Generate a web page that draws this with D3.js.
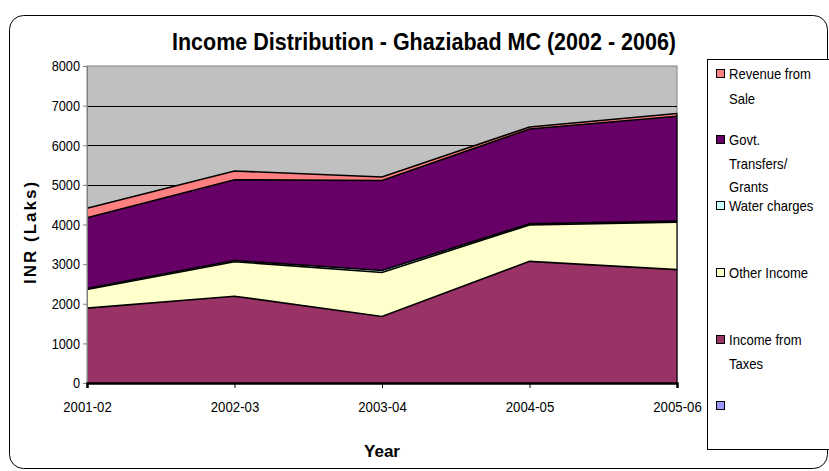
<!DOCTYPE html>
<html>
<head>
<meta charset="utf-8">
<script src="https://cdn.jsdelivr.net/npm/d3@7"></script>
<style>
  body { margin: 0; background: #fff; }
  svg { display: block; }
  text { font-family: "Liberation Sans Narrow", "Arial Narrow", "Liberation Sans", Arial, sans-serif; }
</style>
</head>
<body>
<div id="chart"></div>
<script>
// Data (INR Laks)
const years = ["2001-02", "2002-03", "2003-04", "2004-05", "2005-06"];
const incomeFromTaxes = [1890, 2190, 1680, 3070, 2860];
const otherIncome = [470, 870, 1110, 920, 1200];
const waterCharges = [25, 30, 50, 30, 25];
const govtTransfers = [1785, 2040, 2270, 2390, 2645];
const revenueFromSale = [240, 220, 90, 50, 70];
const yTicks = [0, 1000, 2000, 3000, 4000, 5000, 6000, 7000, 8000];

// stack order bottom -> top
const seriesNames = ["Income from Taxes", "Other Income", "Water charges", "Govt. Transfers/ Grants", "Revenue from Sale"];
const seriesColors = ["#993366", "#FFFFCC", "#CCFFFF", "#660066", "#FF8080"];
const seriesValues = [incomeFromTaxes, otherIncome, waterCharges, govtTransfers, revenueFromSale];

const width = 829, height = 471;
const margin = { top: 66, right: 152, bottom: 88, left: 87 };

const svg = d3.select("#chart").append("svg")
    .attr("width", width)
    .attr("height", height);

// squeeze text horizontally to mimic the narrow font of the original
function narrow(sel, f) {
    sel.each(function() {
        const len = this.getComputedTextLength();
        if (len > 0) {
            d3.select(this).attr("textLength", len * f).attr("lengthAdjust", "spacingAndGlyphs");
        }
    });
}

// outer rounded frame
svg.append("rect")
    .attr("x", 9.5).attr("y", 15.5)
    .attr("width", 818).attr("height", 453)
    .attr("rx", 14).attr("ry", 14)
    .attr("fill", "#fff")
    .attr("stroke", "#000")
    .attr("stroke-width", 1);

const table = years.map((y, i) => {
    const row = { year: y };
    seriesNames.forEach((n, k) => row[n] = seriesValues[k][i]);
    return row;
});

const stack = d3.stack().keys(seriesNames);
const layers = stack(table);

const x = d3.scalePoint()
    .domain(years)
    .range([margin.left, 677]);

const y = d3.scaleLinear()
    .domain([0, 8000])
    .range([383, margin.top]);

const x0 = x(years[0]), x1 = x(years[years.length - 1]);

// plot background
svg.append("rect")
    .attr("x", x0).attr("y", y(8000))
    .attr("width", x1 - x0).attr("height", y(0) - y(8000))
    .attr("fill", "#C0C0C0")
    .attr("stroke", "#808080")
    .attr("stroke-width", 1);

// gridlines
svg.append("g")
    .selectAll("line")
    .data(yTicks.slice(1, -1))
    .join("line")
    .attr("x1", x0).attr("x2", x1)
    .attr("y1", d => Math.round(y(d)) + 0.5)
    .attr("y2", d => Math.round(y(d)) + 0.5)
    .attr("stroke", "#000")
    .attr("stroke-width", 1);

const area = d3.area()
    .x(d => x(d.data.year))
    .y0(d => y(d[0]))
    .y1(d => y(d[1]));

const topLine = d3.line()
    .x(d => x(d.data.year))
    .y(d => y(d[1]));

svg.append("g")
    .selectAll("path")
    .data(layers)
    .join("path")
    .attr("fill", (d, i) => seriesColors[i])
    .attr("d", area);

svg.append("g")
    .selectAll("path")
    .data(layers)
    .join("path")
    .attr("fill", "none")
    .attr("stroke", "#000")
    .attr("stroke-width", 1.6)
    .attr("d", topLine);

// right edge of plot
svg.append("line")
    .attr("x1", x1).attr("x2", x1)
    .attr("y1", y(0)).attr("y2", y(layers[layers.length - 1][4][1]))
    .attr("stroke", "#000").attr("stroke-width", 1.2);

// y axis
const yAxis = svg.append("g")
    .attr("transform", `translate(${x0},0)`)
    .call(d3.axisLeft(y).tickValues(yTicks).tickSize(4).tickPadding(3).tickFormat(d3.format("d")));
yAxis.select(".domain").attr("stroke", "#808080");
yAxis.selectAll(".tick line").attr("stroke", "#808080");
yAxis.selectAll("text")
    .attr("font-family", "'Liberation Sans Narrow', 'Arial Narrow', 'Liberation Sans', sans-serif")
    .style("font-size", "15px")
    .attr("fill", "#000")
    .call(narrow, 0.85);

// x axis
const xAxis = svg.append("g")
    .attr("transform", `translate(0,${y(0)})`)
    .call(d3.axisBottom(x).tickSize(5).tickPadding(13));
xAxis.select(".domain").attr("stroke", "#000").attr("stroke-width", 2.5);
xAxis.selectAll(".tick line").attr("stroke", "#000");
xAxis.selectAll("text")
    .attr("font-family", "'Liberation Sans Narrow', 'Arial Narrow', 'Liberation Sans', sans-serif")
    .style("font-size", "15px")
    .attr("fill", "#000")
    .call(narrow, 0.88);

// title
svg.append("text")
    .attr("x", 424)
    .attr("y", 50)
    .attr("text-anchor", "middle")
    .style("font-size", "24px")
    .style("font-weight", "bold")
    .text("Income Distribution - Ghaziabad MC (2002 - 2006)")
    .attr("textLength", 504)
    .attr("lengthAdjust", "spacingAndGlyphs");

// axis titles
svg.append("text")
    .attr("x", 382)
    .attr("y", 457)
    .attr("text-anchor", "middle")
    .style("font-family", "'Liberation Sans', Arial, sans-serif")
    .style("font-size", "17px")
    .style("font-weight", "bold")
    .text("Year");

svg.append("text")
    .attr("transform", "translate(36,232) rotate(-90)")
    .attr("text-anchor", "middle")
    .style("font-family", "'Liberation Sans', Arial, sans-serif")
    .style("font-size", "17px")
    .style("font-weight", "bold")
    .style("letter-spacing", "2px")
    .text("INR (Laks)");

// legend
const legend = svg.append("g");
legend.append("rect")
    .attr("x", 707.5).attr("y", 59.5)
    .attr("width", 140).attr("height", 390)
    .attr("fill", "#fff")
    .attr("stroke", "#000");

const legendItems = [
    { lines: ["Revenue from", "Sale"], color: "#FF8080", y: 74, gaps: [0, 25] },
    { lines: ["Govt.", "Transfers/", "Grants"], color: "#660066", y: 140, gaps: [0, 24, 47] },
    { lines: ["Water charges"], color: "#CCFFFF", y: 206, gaps: [0] },
    { lines: ["Other Income"], color: "#FFFFCC", y: 273, gaps: [0] },
    { lines: ["Income from", "Taxes"], color: "#993366", y: 340, gaps: [0, 24] },
    { lines: [""], color: "#9999FF", y: 406, gaps: [0] }
];

legendItems.forEach(it => {
    legend.append("rect")
        .attr("x", 716.5).attr("y", it.y - 4.5)
        .attr("width", 8).attr("height", 8)
        .attr("fill", it.color)
        .attr("stroke", "#000");
    it.lines.forEach((t, j) => {
        legend.append("text")
            .attr("x", 729)
            .attr("y", it.y + it.gaps[j] + 5)
            .style("font-size", "15px")
            .text(t)
            .call(narrow, 0.87);
    });
});
</script>
</body>
</html>
